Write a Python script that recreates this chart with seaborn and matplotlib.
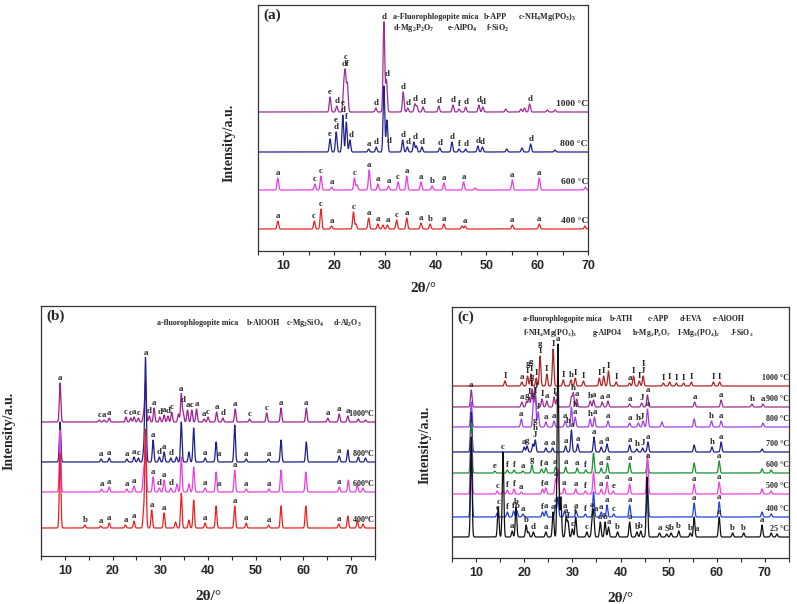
import numpy as np
import pandas as pd
import matplotlib.pyplot as plt
import seaborn as sns
from matplotlib.ticker import MultipleLocator

sns.set_style("ticks")
plt.rcParams['font.family'] = ['Liberation Serif', 'DejaVu Serif']
plt.rcParams.update({'mathtext.fontset': 'custom', 'mathtext.rm': 'Liberation Serif:bold',
                     'mathtext.it': 'Liberation Serif:bold', 'mathtext.bf': 'Liberation Serif:bold'})

# ---------------- data: peak (2theta, height) and peak labels ----------------
# panel (a)
a_temps = ["1000 °C", "800 °C", "600 °C", "400 °C"]
a_1000_peaks = [(19.2, 15), (20.5, 6), (21.9, 25), (22.2, 37), (22.6, 28), (28.2, 4), (29.8, 90), (30.3, 32),
                (33.6, 20), (34.5, 4), (35.9, 8), (36.3, 6), (37.5, 5), (40.6, 6), (43.4, 7), (44.6, 3),
                (45.9, 5), (48.5, 7), (49.3, 5), (53.8, 3), (56.8, 3), (57.5, 4), (58.5, 8), (62.0, 2), (63.5, 2)]
a_1000_labels = [(19.2, "e"), (20.5, "d"), (22.2, "c\ndf"), (28.2, "d"), (29.8, "d"), (30.5, "d"), (33.6, "d"),
                 (34.5, "d"), (35.9, "d"), (37.5, "d"), (40.6, "d"), (43.4, "d"), (44.6, "f"), (45.9, "d"),
                 (48.5, "d"), (49.3, "d"), (58.5, "d")]
a_800_peaks = [(19.2, 13), (20.4, 20), (21.7, 37), (22.4, 30), (23.1, 12), (26.8, 3), (28.3, 5), (29.8, 66),
               (30.4, 32), (33.5, 12), (34.4, 5), (35.7, 10), (36.2, 6), (37.3, 5), (40.8, 4), (43.2, 10),
               (44.6, 3), (45.9, 3), (48.3, 6), (49.2, 5), (54.0, 3), (57.0, 4), (58.7, 8), (63.5, 2)]
a_800_labels = [(19.2, "e"), (20.4, "e\nd"), (21.7, "e\nd"), (22.5, "f"), (23.3, "d"), (26.8, "a"), (28.3, "d"),
                (30.9, "d"), (33.5, "d"), (34.6, "d"), (35.9, "d"), (37.3, "d"), (40.8, "d"), (43.2, "d"),
                (44.6, "f"), (45.9, "d"), (48.3, "d"), (49.2, "d"), (58.7, "d")]
a_600_peaks = [(8.9, 12), (16.2, 6), (17.4, 14), (19.5, 3), (24.0, 12), (24.5, 5), (26.9, 20), (28.6, 6),
               (30.7, 4), (32.6, 8), (34.3, 14), (37.1, 8), (39.3, 4), (41.6, 7), (45.5, 8), (47.8, 2),
               (55.1, 10), (60.4, 12), (69.5, 3)]
a_600_labels = [(8.9, "a"), (16.2, "c"), (17.4, "c"), (19.5, "a"), (24.0, "c"), (26.9, "a"), (28.6, "a"),
                (30.7, "a"), (32.6, "c"), (34.3, "a"), (37.1, "a"), (39.3, "b"), (41.6, "a"), (45.5, "a"),
                (55.1, "a"), (60.4, "a")]
a_400_peaks = [(8.9, 8), (16.1, 8), (17.4, 20), (19.5, 3), (23.8, 17), (24.3, 5), (26.8, 11), (28.6, 5),
               (29.6, 4), (30.5, 4), (32.3, 9), (34.3, 11), (37.1, 6), (38.9, 5), (41.6, 5), (45.2, 3),
               (45.8, 3), (55.1, 4), (60.4, 5), (69.4, 3)]
a_400_labels = [(8.9, "a"), (16.0, "c"), (17.4, "c"), (19.6, "a"), (23.8, "c"), (26.8, "a"), (28.6, "a"),
                (30.6, "a"), (32.4, "c"), (34.3, "a"), (37.0, "a"), (39.0, "b"), (41.6, "a"), (45.8, "a"),
                (55.0, "a"), (60.3, "a")]

# panel (b)
b_temps = [r"1000$^{\rm o}$C", r"800$^{\rm o}$C", r"600$^{\rm o}$C", r"400$^{\rm o}$C"]
b_1000_peaks = [(9.0, 39), (17.2, 2), (18.2, 2), (19.3, 4), (22.8, 5), (23.8, 4), (24.5, 5), (25.4, 4),
                (26.5, 8), (26.9, 40), (27.7, 6), (28.7, 14), (29.9, 5), (30.8, 7), (31.6, 6), (32.4, 10),
                (33.8, 8), (34.4, 28), (34.8, 9), (35.7, 12), (36.6, 12), (37.6, 13), (39.2, 3), (40.0, 5),
                (41.8, 10), (43.1, 4), (45.7, 13), (48.7, 3), (52.3, 9), (55.3, 14), (60.6, 14), (65.1, 4),
                (67.5, 8), (69.3, 6), (71.5, 3), (73.0, 2)]
b_1000_labels = [(9.0, "a"), (17.2, "c"), (18.2, "a"), (19.3, "a"), (22.8, "c"), (23.8, "c"), (24.5, "a"),
                 (25.4, "c"), (27.7, "d"), (28.7, "a"), (29.9, "d"), (30.8, "a"), (31.6, "d"), (32.4, "c"),
                 (34.4, "a"), (34.8, "d"), (35.7, "a"), (36.6, "c"), (37.6, "a"), (39.2, "a"), (40.0, "c"),
                 (41.8, "a"), (43.1, "d"), (45.7, "a"), (48.7, "c"), (52.3, "c"), (55.3, "a"), (60.6, "a"),
                 (65.1, "a"), (67.5, "a"), (69.3, "a")]
b_800_peaks = [(9.0, 40), (17.6, 3), (19.3, 4), (23.0, 3), (24.5, 5), (25.4, 4), (26.5, 10), (26.9, 104),
               (28.5, 22), (29.8, 5), (30.8, 10), (32.2, 4), (33.4, 5), (34.4, 40), (36.0, 10), (37.0, 34),
               (39.4, 4), (41.7, 20), (45.6, 37), (48.0, 3), (52.7, 3), (55.3, 22), (60.6, 20), (67.5, 6),
               (69.3, 12), (71.5, 5), (73.0, 4)]
b_800_labels = [(26.9, "a"), (17.6, "a"), (19.3, "a"), (23.0, "a"), (24.5, "a"), (25.4, "c"), (28.5, "a"),
                (29.8, "d"), (30.8, "a"), (32.2, "d"), (39.4, "a"), (42.2, "a"), (48.0, "a"), (52.7, "a"),
                (67.5, "a")]
b_600_peaks = [(9.0, 62), (17.7, 3), (19.3, 5), (23.0, 3), (24.5, 6), (26.5, 20), (26.9, 55), (28.5, 15),
               (29.8, 4), (30.8, 12), (32.2, 4), (33.5, 8), (34.4, 35), (36.0, 8), (37.0, 25), (39.4, 4),
               (41.7, 20), (45.6, 22), (48.0, 3), (52.8, 3), (55.3, 22), (60.5, 20), (67.5, 5), (69.4, 12),
               (71.3, 7), (72.5, 4)]
b_600_labels = [(17.7, "a"), (19.3, "a"), (23.0, "a"), (24.5, "a"), (28.5, "a"), (29.8, "d"), (30.8, "a"),
                (32.2, "d"), (39.4, "a"), (42.2, "a"), (45.6, "a"), (48.0, "a"), (52.8, "a"), (67.5, "a")]
b_400_peaks = [(9.0, 75), (14.2, 3), (17.5, 2), (19.3, 5), (22.7, 3), (24.5, 7), (26.5, 15), (26.9, 98),
               (28.2, 18), (30.8, 15), (33.2, 6), (34.4, 35), (36.0, 8), (37.0, 28), (39.4, 5), (41.7, 22),
               (45.6, 22), (48.0, 5), (52.7, 3), (55.3, 22), (60.5, 22), (67.4, 4), (69.3, 12), (71.3, 7),
               (72.5, 4)]
b_400_labels = [(14.2, "b"), (17.5, "a"), (19.3, "a"), (22.7, "a"), (24.5, "a"), (28.2, "a"), (30.8, "a"),
                (39.4, "a"), (45.6, "a"), (48.0, "a"), (52.7, "a"), (67.4, "a")]

# panel (c)
c_temps = ["1000 °C", "900 °C", "800 °C", "700 °C", "600 °C", "500 °C", "400 °C", "25 °C"]
c_1000_peaks = [(16.0, 5), (19.5, 4), (20.7, 10), (21.4, 12), (22.5, 8), (23.3, 30), (24.7, 12), (26.0, 37),
                (28.1, 6), (29.7, 6), (30.6, 8), (32.3, 5), (35.6, 8), (36.5, 10), (37.5, 15), (39.1, 4),
                (41.9, 3), (42.7, 10), (43.9, 5), (44.7, 10), (48.9, 3), (50.2, 4), (51.6, 3), (53.1, 3),
                (54.7, 4), (59.3, 4), (60.6, 4)]
c_1000_labels = [(16.0, "I"), (19.5, "a"), (20.7, "g\nI"), (21.4, "g\nI"), (22.5, "I"), (23.3, "g\nI"),
                 (24.7, "I"), (26.0, "I"), (28.1, "I"), (29.7, "h"), (30.6, "I"), (32.3, "I"), (35.6, "I"),
                 (36.5, "I"), (37.5, "I"), (39.1, "I"), (41.9, "a"), (42.7, "I"), (43.9, "I"), (44.7, "I\nJ"),
                 (48.9, "I"), (50.2, "I"), (51.6, "I"), (53.1, "I"), (54.7, "I"), (59.3, "I"), (60.6, "I")]
c_900_peaks = [(9.0, 17), (19.5, 5), (20.5, 6), (21.0, 10), (21.6, 18), (22.2, 20), (23.7, 8), (24.7, 6),
               (26.2, 10), (26.8, 8), (29.8, 10), (30.2, 14), (30.9, 8), (33.7, 6), (34.4, 7), (36.2, 5),
               (37.4, 6), (41.9, 3), (44.4, 4), (45.6, 12), (55.4, 5), (60.9, 7), (67.3, 3), (69.6, 3)]
c_900_labels = [(9.0, "a"), (19.5, "a"), (20.5, "g"), (21.0, "I"), (21.6, "g\nI"), (22.5, "J"), (23.7, "I"),
                (24.7, "a"), (26.2, "I"), (26.8, "a"), (30.2, "h"), (30.9, "a"), (33.7, "h"), (34.4, "a"),
                (36.2, "a"), (37.4, "a"), (41.9, "a"), (44.4, "J"), (45.6, "a"), (55.4, "a"), (60.9, "a"),
                (67.3, "h"), (69.6, "a")]
c_800_peaks = [(9.0, 25), (19.4, 8), (21.9, 25), (22.3, 30), (22.9, 15), (24.5, 5), (26.2, 6), (28.5, 6),
               (29.8, 20), (30.6, 10), (33.7, 8), (34.6, 10), (37.4, 6), (41.9, 4), (43.7, 4), (44.7, 6),
               (45.6, 18), (48.6, 5), (55.3, 8), (58.9, 6), (60.9, 6), (69.6, 4)]
c_800_labels = [(19.4, "a"), (21.9, "g"), (22.4, "I"), (22.9, "J"), (24.5, "a"), (26.2, "a"), (28.5, "a"),
                (29.2, "h"), (30.6, "h\na"), (33.7, "h"), (34.6, "a"), (37.4, "a"), (41.9, "a"), (43.7, "h"),
                (44.4, "J"), (45.6, "a"), (58.9, "h"), (60.9, "a")]
c_700_peaks = [(9.0, 40), (20.0, 5), (20.6, 6), (21.8, 8), (22.3, 12), (24.5, 4), (25.9, 4), (28.6, 6),
               (29.8, 22), (31.1, 8), (34.5, 15), (36.0, 5), (37.2, 8), (41.9, 7), (43.4, 3), (44.6, 4),
               (45.7, 10), (55.3, 7), (59.0, 5), (60.9, 10), (69.4, 3)]
c_700_labels = [(20.0, "a"), (20.6, "g"), (22.2, "g\nh\nJ"), (24.5, "a"), (25.9, "a"), (28.6, "a"), (30.0, "a"),
                (31.1, "a"), (34.5, "a"), (36.0, "a"), (37.2, "a"), (41.9, "a"), (43.4, "h"), (44.6, "J"),
                (45.7, "a"), (59.0, "h"), (60.9, "a")]
c_600_peaks = [(9.0, 50), (13.9, 2), (16.5, 3), (17.9, 3), (19.7, 2), (21.6, 8), (23.6, 4), (24.5, 5),
               (26.5, 6), (28.6, 6), (31.0, 5), (32.8, 3), (34.4, 20), (36.0, 5), (37.3, 10), (41.9, 10),
               (45.6, 12), (55.3, 10), (60.5, 12), (69.4, 4), (71.3, 3)]
c_600_labels = [(13.9, "e"), (16.5, "f"), (17.9, "f"), (19.7, "a"), (21.6, "g"), (23.6, "f"), (24.5, "a"),
                (26.3, "a"), (28.6, "a"), (31.0, "a"), (32.8, "f"), (36.0, "a"), (37.3, "a"), (41.9, "a"),
                (45.6, "a"), (60.5, "a")]
c_500_peaks = [(9.0, 60), (14.4, 3), (15.6, 3), (16.5, 4), (17.9, 5), (19.4, 2), (23.8, 5), (24.5, 6),
               (26.5, 15), (27.0, 25), (28.3, 6), (30.7, 5), (32.7, 3), (34.4, 22), (36.0, 5), (37.2, 12),
               (38.5, 3), (41.9, 10), (45.6, 40), (55.3, 10), (60.5, 12), (69.4, 5), (71.3, 3)]
c_500_labels = [(14.4, "c"), (16.5, "f"), (17.9, "f"), (19.4, "a"), (23.8, "f"), (24.5, "a"), (26.5, "a"),
                (28.3, "a"), (30.7, "a"), (32.7, "f"), (36.0, "a"), (37.2, "a"), (38.5, "e"), (41.9, "a"),
                (55.3, "a"), (60.5, "a")]
c_400_peaks = [(9.0, 70), (14.4, 4), (16.5, 5), (17.8, 6), (18.5, 6), (19.7, 3), (23.8, 5), (24.5, 6),
               (26.5, 12), (27.0, 20), (28.4, 6), (30.8, 6), (32.7, 3), (34.4, 25), (36.0, 5), (37.2, 12),
               (38.6, 3), (41.9, 12), (45.6, 30), (55.3, 14), (60.5, 15), (69.4, 5), (71.3, 3)]
c_400_labels = [(14.4, "c"), (16.5, "f"), (17.8, "f"), (18.5, "b"), (19.7, "a"), (23.8, "f"), (24.5, "a"),
                (26.5, "a"), (28.4, "a"), (30.8, "a"), (32.7, "f"), (34.9, "a"), (36.0, "a"), (37.2, "a"),
                (38.6, "c"), (41.9, "a"), (55.3, "a"), (60.5, "a")]
c_25_peaks = [(9.0, 100), (14.6, 30), (15.6, 85), (17.5, 6), (18.3, 30), (20.4, 12), (20.9, 5), (21.9, 5),
              (24.5, 5), (26.0, 25), (27.0, 193), (27.6, 40), (28.7, 20), (29.1, 15), (30.0, 8), (30.7, 20),
              (33.0, 5), (34.1, 15), (34.4, 25), (35.8, 15), (36.8, 15), (37.5, 10), (39.4, 5), (41.9, 15),
              (43.4, 5), (44.2, 6), (45.5, 60), (48.1, 4), (49.6, 3), (50.5, 4), (52.1, 6), (54.5, 4),
              (55.3, 20), (60.5, 20), (63.3, 4), (65.6, 4), (69.4, 12), (71.3, 4), (72.5, 3)]
c_25_labels = [(14.6, "c"), (15.6, "c"), (17.5, "a"), (18.3, "b"), (20.4, "b"), (21.9, "d"), (24.5, "a"),
               (26.0, "a"), (27.0, "a"), (28.7, "a"), (29.1, "f"), (30.0, "c"), (30.7, "f"), (33.0, "c"),
               (34.1, "a"), (35.8, "a"), (36.8, "b"), (37.5, "a"), (39.4, "b"), (41.9, "a"), (43.4, "b"),
               (44.2, "b"), (48.1, "a"), (49.6, "S"), (50.5, "b"), (52.1, "b"), (54.5, "b"), (55.8, "a"),
               (60.5, "a"), (63.3, "b"), (65.6, "b"), (69.4, "a")]

# legend texts of each panel
a_legend_row1 = ["a-Fluorophlogopite mica", "b-APP", r"c-NH$_4$Mg(PO$_3$)$_3$"]
a_legend_row2 = [r"d-Mg$_2$P$_2$O$_7$", r"e-AlPO$_4$", r"f-SiO$_2$"]
b_legend_row1 = ["a-fluorophlogopite mica", "b-AlOOH", r"c-Mg$_2$SiO$_4$", r"d-Al$_2$O$_3$"]
c_legend_row1 = ["a-fluorophlogopite mica", "b-ATH", "c-APP", "d-EVA", "e-AlOOH"]
c_legend_row2 = [r"f-NH$_4$Mg(PO$_3$)$_3$", "g-AlPO4", r"h-Mg$_2$P$_2$O$_7$", r"I-Mg$_3$(PO$_4$)$_2$",
                 r"J-SiO$_2$"]

# ---------------- layout / style ----------------
a_base = [139, 99, 61, 22]
b_base = [134, 94, 64, 28]
c_base = [172, 151, 131, 106, 85, 64, 41, 21]
a_colors = ["#9C2E96", "#22228E", "#E83CE6", "#E82424"]
b_colors = ["#A0208F", "#1E1E8A", "#E840E0", "#EE2020"]
c_colors = ["#B22222", "#9B2D8F", "#A040E8", "#1E1E90", "#189030", "#F040E0", "#2040E0", "#111111"]
SIGMA = 0.16


def profile(grid, peaks):
    y = np.zeros_like(grid)
    for p, h in peaks:
        y += h * np.exp(-0.5 * ((grid - p) / SIGMA) ** 2)
    return y


def draw_panel(ax, xlim, height, temps, bases, colors, peak_sets, label_sets, tag, temp_fs):
    grid = np.linspace(xlim[0], xlim[1], 3600)
    for temp, base, col, peaks, labels in zip(temps, bases, colors, peak_sets, label_sets):
        prof = profile(grid, peaks)
        df = pd.DataFrame({'two_theta': grid, 'intensity': base + prof})
        sns.lineplot(data=df, x='two_theta', y='intensity', ax=ax, color=col, lw=0.9,
                     estimator=None, sort=False)
        for pos, txt in labels:
            win = np.abs(grid - pos) <= 0.2
            top = base + prof[win].max()
            ax.text(pos, top + 1, txt, ha='center', va='bottom', fontsize=6.3,
                    fontweight='bold', linespacing=0.8, zorder=5)
        ax.text(xlim[1], base + 4, temp, ha='right', va='bottom', fontsize=temp_fs, fontweight='bold', zorder=5)
    ax.set_xlim(*xlim)
    ax.set_ylim(0, height)
    ax.set_yticks([])
    ax.set_xticks(range(10, 71, 10))
    ax.xaxis.set_minor_locator(MultipleLocator(5))
    ax.tick_params(axis='x', which='both', direction='out', length=3, width=0.8)
    for lab in ax.get_xticklabels():
        lab.set_fontfamily('Liberation Sans')
        lab.set_fontweight('bold')
        lab.set_fontsize(9)
    for s in ax.spines.values():
        s.set_visible(True)
        s.set_linewidth(0.9)
        s.set_color('#333333')
    ax.set_xlabel(r"2θ/°", fontsize=11, fontweight='bold')
    ax.set_ylabel("Intensity/a.u.", fontsize=10, fontweight='bold')
    ax.text(0.015, 0.985, tag, transform=ax.transAxes, ha='left', va='top', fontsize=11, fontweight='bold')


def put_legend_row(ax, items, xs, y, fs):
    for txt, xx in zip(items, xs):
        ax.text(xx, y, txt, transform=ax.transAxes, ha='left', va='center', fontsize=fs, fontweight='bold')


fig = plt.figure(figsize=(7.97, 6.04), dpi=100)
ax_a = fig.add_axes([258 / 797, 1 - 251 / 604, 330 / 797, 246 / 604])
ax_b = fig.add_axes([41 / 797, 1 - 556 / 604, 334 / 797, 250 / 604])
ax_c = fig.add_axes([452 / 797, 1 - 558 / 604, 337 / 797, 251 / 604])

draw_panel(ax_a, (5, 70), 246, a_temps, a_base, a_colors,
           [a_1000_peaks, a_800_peaks, a_600_peaks, a_400_peaks],
           [a_1000_labels, a_800_labels, a_600_labels, a_400_labels], "(a)", 6.8)
put_legend_row(ax_a, a_legend_row1, [0.409, 0.685, 0.788], 0.951, 5.9)
put_legend_row(ax_a, a_legend_row2, [0.409, 0.573, 0.691], 0.905, 5.9)

draw_panel(ax_b, (5, 75), 250, b_temps, b_base, b_colors,
           [b_1000_peaks, b_800_peaks, b_600_peaks, b_400_peaks],
           [b_1000_labels, b_800_labels, b_600_labels, b_400_labels], "(b)", 5.9)
put_legend_row(ax_b, b_legend_row1, [0.347, 0.617, 0.734, 0.874], 0.932, 5.7)

draw_panel(ax_c, (5, 75), 251, c_temps, c_base, c_colors,
           [c_1000_peaks, c_900_peaks, c_800_peaks, c_700_peaks, c_600_peaks, c_500_peaks, c_400_peaks, c_25_peaks],
           [c_1000_labels, c_900_labels, c_800_labels, c_700_labels, c_600_labels, c_500_labels, c_400_labels,
            c_25_labels], "(c)", 5.8)
put_legend_row(ax_c, c_legend_row1, [0.211, 0.469, 0.582, 0.674, 0.774], 0.952, 5.6)
put_legend_row(ax_c, c_legend_row2, [0.211, 0.418, 0.534, 0.668, 0.825], 0.896, 5.6)

ax_a.yaxis.set_label_coords(-0.067, 0.44)
ax_a.xaxis.set_label_coords(0.5, -0.125)
ax_b.yaxis.set_label_coords(-0.075, 0.5)
ax_b.xaxis.set_label_coords(0.5, -0.135)
ax_c.yaxis.set_label_coords(-0.062, 0.45)
ax_c.xaxis.set_label_coords(0.5, -0.135)

fig.savefig("out.png", dpi=100)
